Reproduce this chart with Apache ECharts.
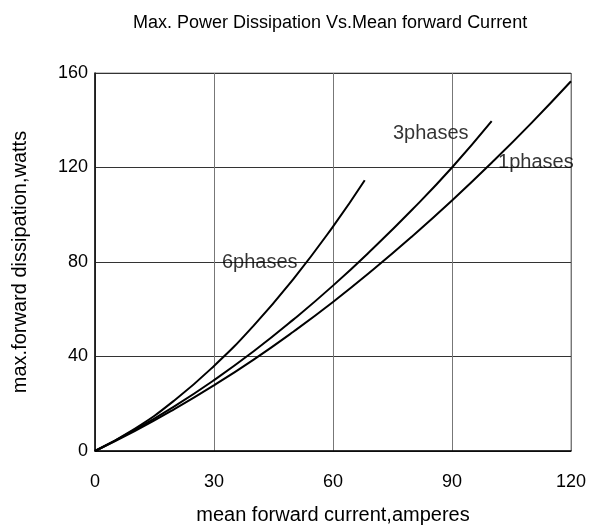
<!DOCTYPE html>
<html>
<head>
<meta charset="utf-8">
<script src="https://cdn.jsdelivr.net/npm/echarts@6/dist/echarts.min.js"></script>
<style>html,body{margin:0;padding:0;background:#fff}#c{width:592px;height:532px}</style>
</head>
<body>
<div id="c"></div>
<script>
const xTicks = [0, 30, 60, 90, 120];
const yTicks = [0, 40, 80, 120, 160];

const x1phase = [0, 10, 20, 30, 40, 50, 60, 70, 80, 90, 100, 110, 120];
const y1phase = [0, 8.4, 17.7, 27.8, 38.7, 50.5, 63.1, 76.6, 90.9, 106, 122, 138.8, 156.5];

const x3phase = [0, 10, 20, 30, 40, 50, 60, 70, 80, 90, 100];
const y3phase = [0, 8.9, 18.9, 30, 42.2, 55.6, 70, 85.6, 102.2, 120, 139.6];

const x6phase = [0, 10, 20, 30, 40, 50, 60, 68];
const y6phase = [0, 9.4, 21.4, 36, 53.1, 72.8, 95, 114.6];

const labelNames = ['6phases', '3phases', '1phases'];
const labelX = [32.0, 75.1, 101.6];
const labelY = [79.6, 134.2, 122];

const zip = (xs, ys) => xs.map((x, i) => [x, ys[i]]);

const lineStyle = { color: '#000', width: 2 };
const mkSeries = (name, xs, ys) => ({
  name, type: 'line', data: zip(xs, ys), smooth: true, showSymbol: false,
  symbol: 'none', lineStyle, z: 3, silent: true
});

const chart = echarts.init(document.getElementById('c'), null, { renderer: 'canvas' });
const font = 'Liberation Sans, Arial, sans-serif';

chart.setOption({
  animation: false,
  backgroundColor: '#fff',
  title: {
    text: 'Max. Power Dissipation Vs.Mean forward Current',
    left: 128, top: 9,
    textStyle: { fontFamily: font, fontSize: 18, fontWeight: 'normal', color: '#000' }
  },
  grid: { left: 95, top: 73, width: 476, height: 378, show: true, borderColor: '#888', borderWidth: 1 },
  xAxis: {
    type: 'value', min: 0, max: 120, interval: 30,
    name: 'mean forward current,amperes', nameLocation: 'middle', nameGap: 54,
    nameTextStyle: { fontFamily: font, fontSize: 20, color: '#000' },
    axisLine: { show: true, lineStyle: { color: '#000', width: 1.5 } },
    axisTick: { show: false },
    axisLabel: { fontFamily: font, fontSize: 18, color: '#000', margin: 22,
      formatter: v => xTicks.includes(v) ? String(v) : '' },
    splitLine: { show: true, lineStyle: { color: '#777', width: 1 } }
  },
  yAxis: {
    type: 'value', min: 0, max: 160, interval: 40,
    name: 'max.forward dissipation,watts', nameLocation: 'middle', nameGap: 65, nameRotate: 90,
    nameTextStyle: { fontFamily: font, fontSize: 20, color: '#000' },
    axisLine: { show: true, lineStyle: { color: '#000', width: 1.5 } },
    axisTick: { show: false },
    axisLabel: { fontFamily: font, fontSize: 18, color: '#000', margin: 7,
      formatter: v => yTicks.includes(v) ? String(v) : '' },
    splitLine: { show: true, lineStyle: { color: '#333', width: 1 } }
  },
  series: [
    mkSeries('1phases', x1phase, y1phase),
    mkSeries('3phases', x3phase, y3phase),
    mkSeries('6phases', x6phase, y6phase),
    {
      type: 'scatter', symbolSize: 0, silent: true, z: 2,
      data: labelNames.map((n, i) => ({ value: [labelX[i], labelY[i]], name: n })),
      label: { show: true, position: 'right', distance: 0, formatter: p => p.name,
        fontFamily: font, fontSize: 20, color: '#000' }
    }
  ]
});
</script>
</body>
</html>
